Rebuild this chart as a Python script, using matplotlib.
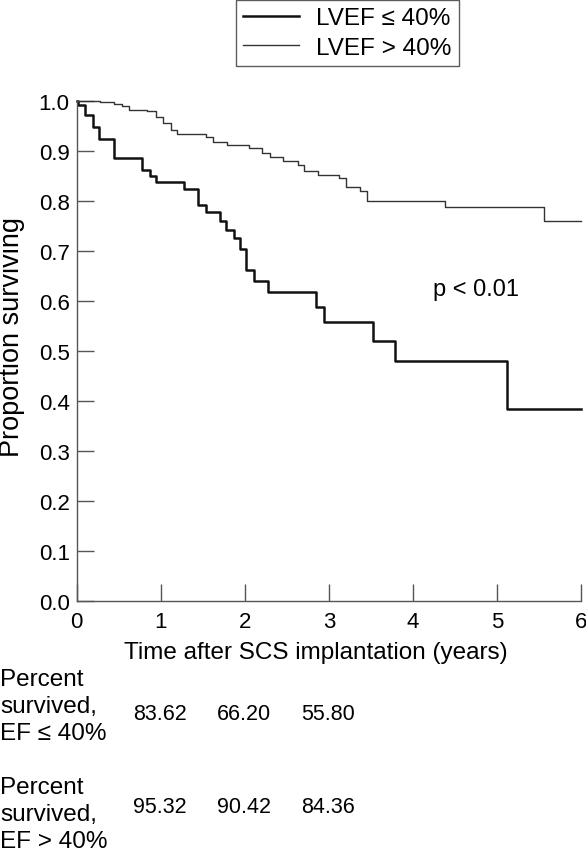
import numpy as np
import matplotlib
matplotlib.use("Agg")
import matplotlib.pyplot as plt
from matplotlib.lines import Line2D
import matplotlib.transforms as mtransforms

plt.rcParams['font.family'] = ['Liberation Sans', 'DejaVu Sans']

# Kaplan-Meier curves (years, proportion surviving)
t_low = [0, 0.02, 0.10, 0.20, 0.27, 0.45, 0.78, 0.87, 0.95, 1.28, 1.45, 1.54,
         1.70, 1.78, 1.87, 1.94, 2.02, 2.11, 2.28, 2.85, 2.94, 3.52, 3.79, 5.12, 6.0]
s_low = [1.0, 0.992, 0.972, 0.948, 0.923, 0.885, 0.862, 0.850, 0.838, 0.823, 0.791, 0.777,
         0.760, 0.742, 0.725, 0.703, 0.661, 0.640, 0.617, 0.587, 0.557, 0.519, 0.479, 0.383, 0.383]

t_high = [0, 0.28, 0.44, 0.54, 0.62, 0.84, 0.94, 1.03, 1.12, 1.20, 1.54, 1.62, 1.79,
          2.05, 2.21, 2.30, 2.46, 2.63, 2.71, 2.87, 3.12, 3.20, 3.37, 3.45, 4.38, 5.56, 6.0]
s_high = [1.0, 0.997, 0.993, 0.989, 0.982, 0.979, 0.967, 0.955, 0.942, 0.933, 0.927, 0.918, 0.911,
          0.905, 0.895, 0.887, 0.880, 0.872, 0.860, 0.851, 0.845, 0.827, 0.820, 0.799, 0.787, 0.760, 0.760]

legend_labels = ['LVEF ≤ 40%', 'LVEF > 40%']
table_years = [1, 2, 3]
pct_low = ['83.62', '66.20', '55.80']
pct_high = ['95.32', '90.42', '84.36']
row_labels = ['Percent\nsurvived,\nEF ≤ 40%', 'Percent\nsurvived,\nEF > 40%']

W, H = 586, 853
fig = plt.figure(figsize=(W / 100, H / 100), dpi=100, facecolor='white')
ax = fig.add_axes([76.6 / W, (H - 602) / H, (581 - 76.6) / W, (602 - 101.7) / H])

ax.step(t_low, s_low, where='post', color='#111111', lw=1.8, clip_on=False)
ax.step(t_high, s_high, where='post', color='#333333', lw=1.0, clip_on=False)

ax.set_xlim(0, 6)
ax.set_ylim(0, 1.0)
ax.set_xticks(range(0, 7))
ax.set_yticks(np.arange(0, 1.01, 0.1))
ax.set_yticklabels(['%.1f' % v for v in np.arange(0, 1.01, 0.1)])
for s in ['top', 'right']:
    ax.spines[s].set_visible(False)
for s in ['left', 'bottom']:
    ax.spines[s].set_color('#555555')
    ax.spines[s].set_linewidth(1.0)
ax.tick_params(direction='in', length=12, width=1.0, color='#555555', labelsize=16)
ax.tick_params(axis='x', pad=7)
ax.tick_params(axis='y', pad=5)

ax.text(4.24, 0.623, 'p < 0.01', fontsize=17, va='center', ha='left')

fig.text(316 / W, 1 - 653 / H, 'Time after SCS implantation (years)', fontsize=17.5,
         ha='center', va='center')
fig.text(12 / W, 1 - 337 / H, 'Proportion surviving', fontsize=19.5, rotation=90,
         ha='center', va='center')

# legend
handles = [Line2D([], [], color='#111111', lw=1.8), Line2D([], [], color='#333333', lw=1.0)]
leg = fig.legend(handles, legend_labels, loc='upper left', bbox_to_anchor=(236 / W, 1 - 1 / H),
                 fontsize=17.5, frameon=True, fancybox=False, edgecolor='#333333',
                 handlelength=2.3, handletextpad=0.7, borderpad=0.3, labelspacing=0.3,
                 borderaxespad=0)
leg.get_frame().set_linewidth(1.0)

# survival table under the plot
trans = mtransforms.blended_transform_factory(ax.transData, fig.transFigure)
for lab, vals, yc, yn in [(row_labels[0], pct_low, 707, 714), (row_labels[1], pct_high, 815, 808)]:
    fig.text(0, 1 - yc / H, lab, fontsize=17.5, ha='left', va='center', linespacing=1.27)
    for x, v in zip(table_years, vals):
        ax.text(x - 0.01, 1 - yn / H, v, transform=trans, fontsize=15.5, ha='center', va='center')

fig.savefig('out.png', dpi=100, facecolor='white')
